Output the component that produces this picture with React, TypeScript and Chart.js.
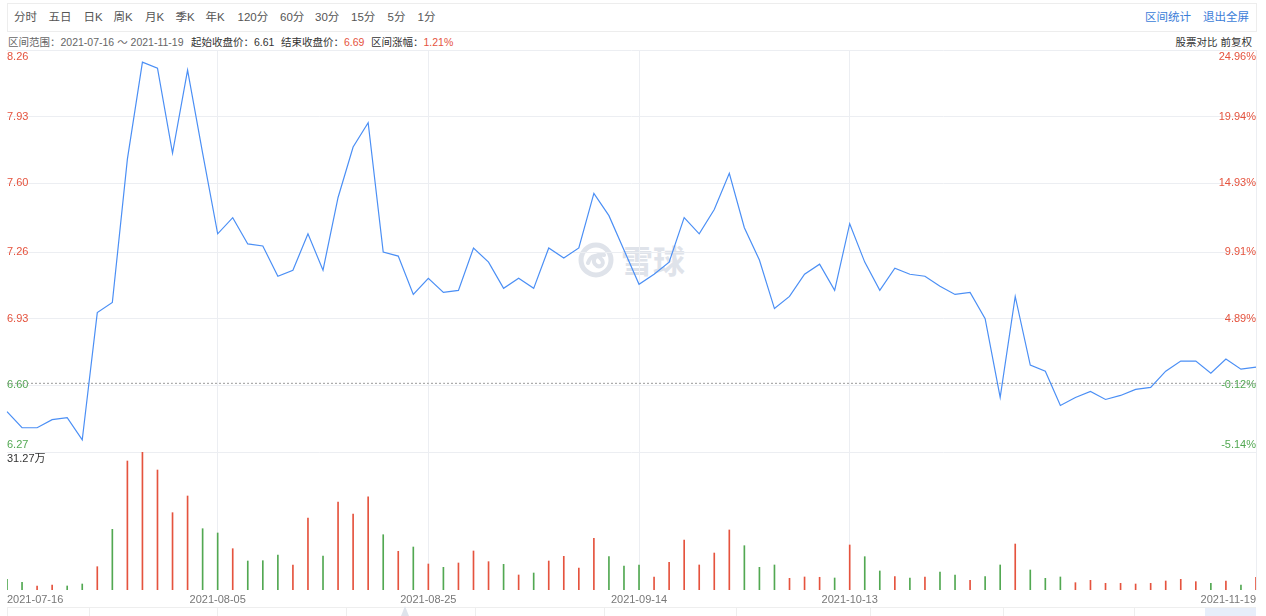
import React, { useEffect, useRef } from 'react';
import { Chart, registerables } from 'chart.js';

Chart.register(...registerables);

// ---------- data ----------
const dates = [
  '2021-07-16', '2021-07-19', '2021-07-20', '2021-07-21', '2021-07-22', '2021-07-23', '2021-07-26', '2021-07-27', '2021-07-28', '2021-07-29', '2021-07-30',
  '2021-08-02', '2021-08-03', '2021-08-04', '2021-08-05', '2021-08-06', '2021-08-09', '2021-08-10', '2021-08-11', '2021-08-12', '2021-08-13',
  '2021-08-16', '2021-08-17', '2021-08-18', '2021-08-19', '2021-08-20', '2021-08-23', '2021-08-24', '2021-08-25', '2021-08-26', '2021-08-27',
  '2021-08-30', '2021-08-31', '2021-09-01', '2021-09-02', '2021-09-03', '2021-09-06', '2021-09-07', '2021-09-08', '2021-09-09', '2021-09-10',
  '2021-09-13', '2021-09-14', '2021-09-15', '2021-09-16', '2021-09-17', '2021-09-22', '2021-09-23', '2021-09-24', '2021-09-27', '2021-09-28',
  '2021-09-29', '2021-09-30', '2021-10-08', '2021-10-11', '2021-10-12', '2021-10-13', '2021-10-14', '2021-10-15', '2021-10-18', '2021-10-19',
  '2021-10-20', '2021-10-21', '2021-10-22', '2021-10-25', '2021-10-26', '2021-10-27', '2021-10-28', '2021-10-29', '2021-11-01', '2021-11-02',
  '2021-11-03', '2021-11-04', '2021-11-05', '2021-11-08', '2021-11-09', '2021-11-10', '2021-11-11', '2021-11-12', '2021-11-15', '2021-11-16',
  '2021-11-17', '2021-11-18', '2021-11-19',
];

const closePrices = [
  6.47, 6.39, 6.39, 6.43, 6.44, 6.33, 6.96, 7.01, 7.72, 8.20, 8.17,
  7.75, 8.16, 7.75, 7.35, 7.43, 7.30, 7.29, 7.14, 7.17, 7.35,
  7.17, 7.53, 7.78, 7.90, 7.26, 7.24, 7.05, 7.13, 7.06, 7.07,
  7.28, 7.21, 7.08, 7.13, 7.08, 7.28, 7.23, 7.28, 7.55, 7.44,
  7.27, 7.10, 7.15, 7.21, 7.43, 7.35, 7.47, 7.65, 7.38, 7.22,
  6.98, 7.04, 7.15, 7.20, 7.07, 7.40, 7.21, 7.07, 7.18, 7.15,
  7.14, 7.09, 7.05, 7.06, 6.93, 6.54, 7.04, 6.70, 6.67, 6.50,
  6.54, 6.57, 6.53, 6.55, 6.58, 6.59, 6.67, 6.72, 6.72, 6.66,
  6.73, 6.68, 6.69,
];

// volume in 万 (10k shares)
const volumes = [
  2.42, 1.74, 0.91, 1.13, 0.91, 1.36, 5.28, 13.75, 29.23, 31.27, 27.19,
  17.52, 21.30, 13.89, 12.92, 9.36, 6.57, 6.64, 7.93, 5.67, 16.31,
  7.70, 19.94, 17.22, 21.14, 12.53, 8.77, 9.74, 5.89, 5.14, 6.12,
  8.84, 6.42, 5.82, 3.40, 3.85, 6.57, 7.63, 4.98, 11.71, 7.55,
  5.44, 5.67, 2.95, 6.27, 11.33, 5.67, 8.38, 13.60, 10.04, 5.14,
  5.67, 2.65, 2.95, 2.88, 2.72, 10.20, 7.55, 4.31, 3.02, 2.72,
  2.95, 4.08, 3.40, 2.19, 3.02, 5.67, 10.42, 4.53, 2.65, 2.95,
  1.66, 2.19, 1.51, 1.51, 1.36, 1.51, 2.04, 2.42, 1.89, 1.51,
  2.04, 1.13, 2.88,
];

// 1 = up day (red), 0 = down day (green)
const volumeUp = [
  0, 0, 1, 1, 0, 0, 1, 0, 1, 1, 1,
  1, 1, 0, 0, 1, 0, 0, 0, 1, 1,
  0, 1, 1, 1, 0, 1, 0, 1, 0, 1,
  1, 1, 0, 1, 0, 1, 1, 1, 1, 0,
  0, 0, 1, 1, 1, 1, 1, 1, 0, 0,
  0, 1, 1, 1, 0, 1, 0, 0, 1, 0,
  1, 0, 0, 1, 0, 0, 1, 0, 0, 0,
  1, 1, 1, 1, 1, 1, 1, 1, 1, 0,
  1, 0, 1,
];

const priceTickLabels = ['6.27', '6.60', '6.93', '7.26', '7.60', '7.93', '8.26'];
const pctTickLabels = ['-5.14%', '-0.12%', '4.89%', '9.91%', '14.93%', '19.94%', '24.96%'];
const xLabelIndices = [0, 14, 28, 42, 56, 83];
const xGridIndices = [14, 28, 42, 56, 83];

const startClose = 6.61;
const endClose = 6.69;
const rangeChange = '1.21%';
const volMax = 31.27;

const tabs = ['分时', '五日', '日K', '周K', '月K', '季K', '年K', '120分', '60分', '30分', '15分', '5分', '1分'];

// ---------- styles ----------
const FONT = '"Liberation Sans", "Noto Sans CJK SC", sans-serif';
const RED = '#e5533e';
const GREEN = '#52a852';
const GRID = '#eceef2';
const BLUE = '#4b8ff5';
const tabLefts = [14, 48.5, 83.5, 113.5, 145, 175.5, 205.5, 237.5, 280, 315, 351, 387.5, 417.5];
const navDividers = [7, 89, 217, 346, 475, 604, 736, 870, 1003, 1134];

export default function App() {
  const ref = useRef<HTMLCanvasElement>(null);

  useEffect(() => {
    const canvas = ref.current;
    if (!canvas) return;
    const priceTickValues = priceTickLabels.map((s) => parseFloat(s));
    const last = priceTickValues.length - 1;
    const tickColor = (c: any) => (c.tick && c.tick.value > startClose ? RED : GREEN);
    const yLabel = (arr: string[]) => (_v: any, i: number) =>
      i === 0 ? [arr[i], ''] : i === last ? ['', arr[i]] : arr[i];

    const chart = new Chart(canvas, {
      type: 'bar',
      data: {
        labels: dates,
        datasets: [
          {
            type: 'line',
            label: 'close',
            data: closePrices,
            yAxisID: 'y',
            borderColor: BLUE,
            borderWidth: 1.2,
            pointRadius: 0,
            tension: 0,
            order: 0,
          } as any,
          {
            type: 'line',
            label: 'base',
            data: dates.map(() => startClose),
            yAxisID: 'y',
            borderColor: '#9a9a9a',
            borderWidth: 1,
            borderDash: [2, 2],
            pointRadius: 0,
            order: 1,
          } as any,
          {
            type: 'bar',
            label: 'volume',
            data: volumes,
            yAxisID: 'yVol',
            backgroundColor: volumeUp.map((u) => (u ? RED : GREEN)),
            barThickness: 1,
            order: 2,
          } as any,
        ],
      },
      options: {
        responsive: false,
        animation: false,
        devicePixelRatio: 1,
        events: [],
        layout: { padding: { left: 7, right: 10, top: 20, bottom: 6.8 } },
        plugins: { legend: { display: false }, tooltip: { enabled: false } },
        scales: {
          x: {
            type: 'category',
            offset: false,
            grid: {
              offset: false,
              drawTicks: false,
              tickLength: 0,
              color: (c: any) => (xGridIndices.includes(c.index) ? GRID : 'rgba(0,0,0,0)'),
            },
            border: { display: false },
            ticks: {
              autoSkip: false,
              maxRotation: 0,
              minRotation: 0,
              align: 'inner',
              padding: 3,
              color: '#777',
              font: { size: 11, family: FONT },
              callback: (_v: any, i: number) => (xLabelIndices.includes(i) ? dates[i] : ''),
            },
          },
          yVol: {
            type: 'linear',
            position: 'left',
            stack: 'main',
            stackWeight: 138,
            min: 0,
            max: volMax,
            afterBuildTicks: (s: any) => {
              s.ticks = [{ value: volMax }];
            },
            grid: { display: false, drawTicks: false, tickLength: 0 },
            border: { display: false },
            ticks: {
              mirror: true,
              padding: 0,
              color: '#333',
              font: { size: 11, family: FONT },
              callback: () => ['', volMax.toFixed(2) + '万'],
            },
          },
          y: {
            type: 'linear',
            position: 'left',
            stack: 'main',
            stackWeight: 402,
            min: priceTickValues[0],
            max: priceTickValues[last],
            afterBuildTicks: (s: any) => {
              s.ticks = priceTickValues.map((v) => ({ value: v }));
            },
            grid: { color: GRID, drawTicks: false, tickLength: 0 },
            border: { display: false },
            ticks: {
              mirror: true,
              padding: 0,
              autoSkip: false,
              color: tickColor,
              font: { size: 11, family: FONT },
              callback: yLabel(priceTickLabels),
            },
          },
          y2: {
            type: 'linear',
            position: 'right',
            stack: 'main',
            stackWeight: 402,
            min: priceTickValues[0],
            max: priceTickValues[last],
            afterBuildTicks: (s: any) => {
              s.ticks = priceTickValues.map((v) => ({ value: v }));
            },
            grid: { display: false, drawTicks: false, tickLength: 0 },
            border: { display: false },
            ticks: {
              mirror: true,
              padding: 0,
              autoSkip: false,
              color: tickColor,
              font: { size: 11, family: FONT },
              callback: yLabel(pctTickLabels),
            },
          },
          yVolR: {
            type: 'linear',
            position: 'right',
            stack: 'main',
            stackWeight: 138,
            display: false,
            min: 0,
            max: volMax,
          },
        } as any,
      },
    });
    return () => chart.destroy();
  }, []);

  const abs = (s: React.CSSProperties): React.CSSProperties => ({ position: 'absolute', ...s });

  return (
    <div
      style={{
        position: 'fixed',
        left: 0,
        top: 0,
        width: 1266,
        height: 616,
        background: '#fff',
        overflow: 'hidden',
        fontFamily: FONT,
      }}
    >
      {/* toolbar */}
      <div style={abs({ left: 7, top: 3, width: 1248, height: 27, border: '1px solid #ededed' })} />
      {tabs.map((t, i) => (
        <span key={t} style={abs({ left: tabLefts[i], top: 4, lineHeight: '27px', fontSize: 11.5, color: '#555', whiteSpace: 'nowrap' })}>
          {t}
        </span>
      ))}
      <span style={abs({ left: 1145, top: 4, lineHeight: '27px', fontSize: 11.5, color: '#3b7dd8' })}>区间统计</span>
      <span style={abs({ left: 1203, top: 4, lineHeight: '27px', fontSize: 11.5, color: '#3b7dd8' })}>退出全屏</span>

      {/* info line */}
      <div style={abs({ left: 0, top: 35, width: 1266, height: 14, lineHeight: '14px', fontSize: 10.5, whiteSpace: 'nowrap' })}>
        <span style={abs({ left: 8, color: '#666' })}>区间范围：{dates[0]} ～ {dates[dates.length - 1]}</span>
        <span style={abs({ left: 191, color: '#333' })}>起始收盘价：{startClose.toFixed(2)}</span>
        <span style={abs({ left: 281, color: '#333' })}>
          结束收盘价：<span style={{ color: RED }}>{endClose.toFixed(2)}</span>
        </span>
        <span style={abs({ left: 371, color: '#333' })}>
          区间涨幅：<span style={{ color: RED }}>{rangeChange}</span>
        </span>
        <span style={abs({ right: 14, color: '#333' })}>股票对比 前复权</span>
      </div>

      {/* watermark */}
      <svg style={abs({ left: 578, top: 242 })} width={36} height={36} viewBox="0 0 36 36">
        <circle cx={18} cy={18} r={15} fill="none" stroke="#dfe3ea" strokeWidth={5} />
        <path d="M10 21 C13 12, 20 12, 24 18 C27 23, 21 27, 17 22 C14 18, 18 11, 26 13" fill="none" stroke="#dfe3ea" strokeWidth={4} strokeLinecap="round" />
      </svg>
      <div style={abs({ left: 621, top: 241, fontSize: 32, lineHeight: '36px', fontWeight: 700, color: '#dfe3ea', fontFamily: '"Noto Sans CJK SC", sans-serif' })}>
        雪球
      </div>

      {/* chart */}
      <canvas ref={ref} width={1266} height={586} style={abs({ left: 0, top: 30, width: 1266, height: 586 })} />

      {/* navigator strip */}
      <div style={abs({ left: 7, top: 607, width: 1249, height: 1, background: '#eeeeee' })} />
      {navDividers.map((x) => (
        <div key={x} style={abs({ left: x, top: 607, width: 1, height: 9, background: '#eeeeee' })} />
      ))}
      <div style={abs({ left: 1205, top: 608, width: 51, height: 8, background: '#e7eefa' })} />
      <div
        style={abs({
          left: 401,
          top: 606,
          width: 0,
          height: 0,
          borderLeft: '4px solid transparent',
          borderRight: '4px solid transparent',
          borderBottom: '10px solid #dfe4ec',
        })}
      />
    </div>
  );
}
